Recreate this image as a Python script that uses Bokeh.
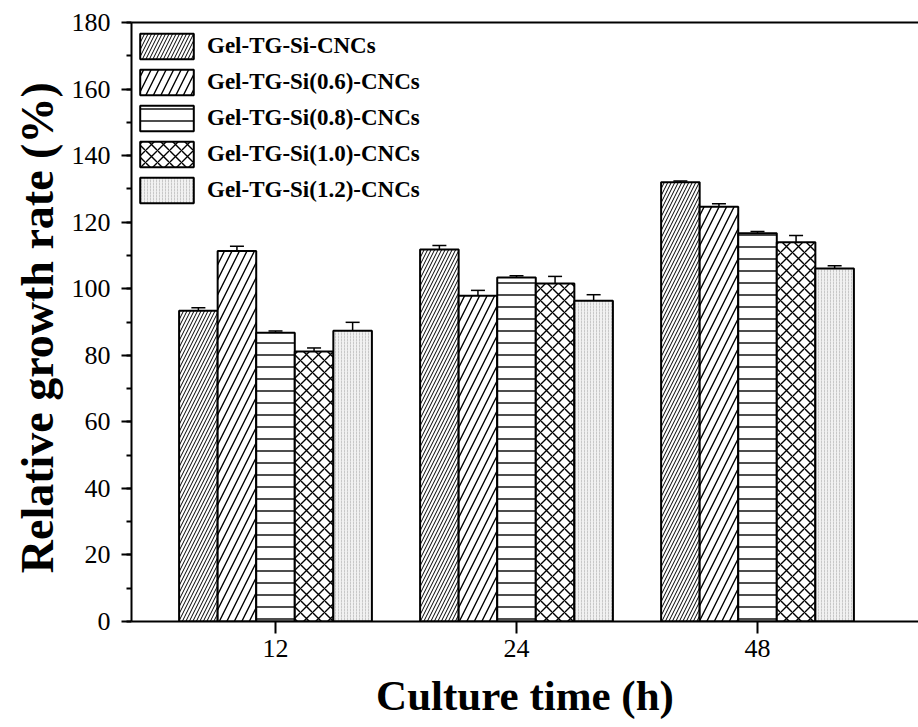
from bokeh.plotting import figure
from bokeh.models import (Range1d, SingleIntervalTicker, FixedTicker, Whisker, ColumnDataSource,
                          Legend, LegendItem, TeeHead, LinearAxis)
from bokeh.embed import file_html
from bokeh.resources import INLINE

# ---- data ----
times = ["12", "24", "48"]
series = ["Gel-TG-Si-CNCs", "Gel-TG-Si(0.6)-CNCs", "Gel-TG-Si(0.8)-CNCs",
          "Gel-TG-Si(1.0)-CNCs", "Gel-TG-Si(1.2)-CNCs"]
v_si = [93.4, 111.8, 132.0]
e_si = [0.9, 1.2, 0.4]
v_06 = [111.3, 97.9, 124.6]
e_06 = [1.5, 1.6, 0.9]
v_08 = [86.8, 103.4, 116.7]
e_08 = [0.5, 0.5, 0.5]
v_10 = [81.1, 101.6, 114.0]
e_10 = [1.1, 2.1, 2.0]
v_12 = [87.4, 96.4, 106.1]
e_12 = [2.5, 1.8, 0.8]

values = [v_si, v_06, v_08, v_10, v_12]
errors = [e_si, e_06, e_08, e_10, e_12]

# ---- styles ----
hatches = ["/", "/", "-", "x", ":"]
hatch_scales = [7, 15, 12, 12, 3]
fills = ["white", "white", "white", "white", "#f1f1f1"]
hatch_colors = ["black", "black", "black", "black", "#c8c8c8"]
hatch_weights = [1.0, 1.4, 1.4, 1.4, 1.0]
offsets = [-0.32, -0.16, 0.0, 0.16, 0.32]
bar_w = 0.16
centers = [1, 2, 3]

FRAME_H = 727 - 22 - 106
LEG_H = 2 * 5 + 5 * 32 + 4 * 4

p = figure(width=918, height=727, output_backend="svg", toolbar_location=None,
           x_range=Range1d(0.4025, 3.668), y_range=Range1d(0, 180),
           min_border_left=131, min_border_right=0, min_border_top=22, min_border_bottom=106)
p.outline_line_color = None
p.grid.visible = False
p.background_fill_color = "white"

items = []
for i in range(5):
    xs = [c + offsets[i] for c in centers]
    src = ColumnDataSource(dict(x=xs, top=values[i],
                                upper=[v + e for v, e in zip(values[i], errors[i])],
                                lower=[v - e for v, e in zip(values[i], errors[i])]))
    r = p.vbar(x="x", top="top", bottom=0, width=bar_w, source=src,
               fill_color=fills[i], line_color="black", line_width=2,
               hatch_pattern=hatches[i], hatch_scale=hatch_scales[i],
               hatch_color=hatch_colors[i], hatch_weight=hatch_weights[i])
    w = Whisker(source=src, base="x", upper="upper", lower="lower",
                line_width=1.5, line_color="black",
                upper_head=TeeHead(size=14, line_width=1.5, line_color="black"),
                lower_head=TeeHead(size=14, line_width=1.5, line_color="black"))
    p.add_layout(w)
    items.append(LegendItem(label=series[i], renderers=[r]))

legend = Legend(items=items, location=(2, FRAME_H - LEG_H + 2), margin=0, padding=5,
                glyph_width=67, glyph_height=32, spacing=4, label_height=32,
                label_standoff=7, label_text_font="Liberation Serif",
                label_text_font_style="bold", label_text_font_size="23px",
                label_text_color="black", border_line_color=None,
                background_fill_alpha=0)
p.add_layout(legend)

# y axis
ya = p.yaxis[0]
ya.ticker = SingleIntervalTicker(interval=20, num_minor_ticks=2)
ya.axis_label = "Relative growth rate  (%)"
ya.axis_label_text_font = "Liberation Serif"
ya.axis_label_text_font_style = "bold"
ya.axis_label_text_font_size = "46px"
ya.axis_label_text_color = "black"
ya.axis_label_standoff = 6
ya.major_label_text_font = "Liberation Serif"
ya.major_label_text_font_size = "26px"
ya.major_label_text_color = "black"
ya.major_label_standoff = 11
ya.axis_line_width = 2
ya.axis_line_color = "black"
ya.major_tick_line_width = 2
ya.minor_tick_line_width = 2
ya.major_tick_out = 10
ya.major_tick_in = 0
ya.minor_tick_out = 5
ya.minor_tick_in = 0

# x axis
xa = p.xaxis[0]
xa.ticker = FixedTicker(ticks=centers)
xa.major_label_overrides = {c: t for c, t in zip(centers, times)}
xa.axis_label = "Culture time (h)"
xa.axis_label_text_font = "Liberation Serif"
xa.axis_label_text_font_style = "bold"
xa.axis_label_text_font_size = "43px"
xa.axis_label_text_color = "black"
xa.axis_label_standoff = 12
xa.major_label_text_font = "Liberation Serif"
xa.major_label_text_font_size = "26px"
xa.major_label_text_color = "black"
xa.major_label_standoff = 6
xa.axis_line_width = 2
xa.axis_line_color = "black"
xa.major_tick_line_width = 2
xa.major_tick_out = 12
xa.major_tick_in = 0
xa.minor_tick_line_color = None

# top border line
top = LinearAxis(ticker=FixedTicker(ticks=[]), axis_line_width=2, axis_line_color="black",
                 major_tick_line_color=None, minor_tick_line_color=None,
                 major_label_text_font_size="0px")
p.add_layout(top, "above")

open("out.html", "w").write(file_html(p, INLINE))
